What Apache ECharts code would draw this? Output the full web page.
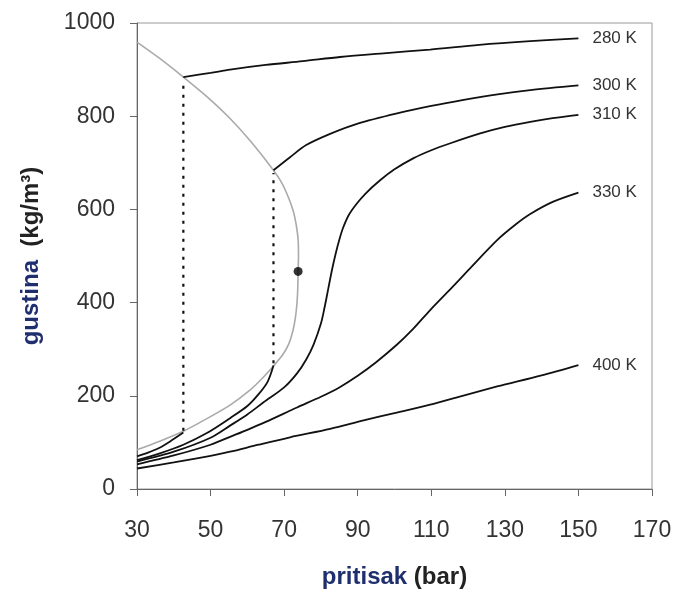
<!DOCTYPE html>
<html><head><meta charset="utf-8">
<script src="https://cdn.jsdelivr.net/npm/echarts@6/dist/echarts.min.js"></script>
<style>html,body{margin:0;padding:0;background:#fff}#c{width:674px;height:589px}</style>
</head><body><div id="c"></div>
<script>
// pressure (bar), density (kg/m3) pairs
const saturation = [[30,959],[36,925],[42.6,884],[49,842],[55.3,795],[61,745],[67.1,684],[69.5,655],[71.2,625],[72.5,596],[73.3,566],[73.8,535],[73.9,500],[73.8,467],[73.7,430],[73.5,400],[73.1,370],[72.4,340],[71.3,312],[69.6,288],[67.1,264],[64,237],[60.7,212],[55.3,180],[49,151],[42.6,124],[36,102],[30,84]];
const iso280Gas = [[30,70],[33,78],[36,88],[39,102],[42.6,121]];
const iso280Liq = [[42.6,884],[50,893],[55.3,900],[65,910],[75,918],[85.2,927],[97,935],[109.7,943],[123,953],[136.9,961],[150,967]];
const iso300Gas = [[30,62],[36,76],[42.6,95],[49,120],[55.3,152],[60,178],[63,203],[65.5,230],[67.1,265]];
const iso300Liq = [[67.1,684],[71.6,712],[76,738],[82.5,762],[90,784],[100.7,806],[110,822],[118.8,835],[128,847],[136.9,856],[150,866]];
const iso310 = [[30,59],[40,80],[50,110],[55.3,136],[60,160],[64.4,186],[70,218],[73.5,248],[76,278],[78,310],[80,355],[81,390],[82,430],[83,470],[84,505],[85,535],[86,560],[87.5,587],[89.5,610],[92,633],[96,662],[100,686],[105.2,710],[110,727],[115.2,742],[123.3,763],[130,777],[136.9,788],[143,796],[150,803]];
const iso330 = [[30,53],[40,72],[50,95],[55.3,112],[60,127],[65,144],[73.5,175],[80,198],[85,218],[90,243],[95,272],[100.7,310],[105,343],[109.7,384],[115.2,429],[120,469],[127.9,534],[133,568],[136.9,590],[143,616],[150,636]];
const iso400 = [[30,44],[40,57],[50,71],[55.3,80],[63,95],[71.6,111],[82.5,129],[91.6,147],[100,163],[109.7,181],[118,199],[127.9,220],[140,244],[150,266]];
const tieLine280 = [[42.6,125],[42.6,878]];
const tieLine300 = [[67.1,270],[67.1,678]];
const criticalPoint = [[73.8,467]];
const isoLabels = ['280 K','300 K','310 K','330 K','400 K'];

const black = '#111';
const font = 'Liberation Sans, Arial';
function iso(data, label) {
  const s = {type:'line', data, showSymbol:false, smooth:0.3,
    lineStyle:{color:black, width:1.8}, silent:true};
  if (label) s.endLabel = {show:true, formatter:label, distance:14, color:'#333', fontSize:17, fontFamily:font};
  return s;
}
const nameRich = {a:{color:'#1f2f6e', fontSize:24, fontWeight:'bold', fontFamily:font}, b:{color:'#222', fontSize:24, fontWeight:'bold', fontFamily:font}};
const chart = echarts.init(document.getElementById('c'), null, {renderer:'canvas'});
chart.setOption({
  animation:false,
  grid:{left:137, top:23, right:22, bottom:100, show:true, borderColor:'#999', borderWidth:1, containLabel:false, outerBoundsMode:'none'},
  xAxis:{type:'value', min:30, max:170, interval:20,
    name:'{a|pritisak}  {b|(bar)}', nameLocation:'middle', nameGap:76,
    nameTextStyle:{rich:nameRich},
    axisLine:{lineStyle:{color:'#666', width:1}}, axisTick:{show:true, length:7, lineStyle:{color:'#666'}},
    axisLabel:{color:'#333', fontSize:23, margin:30, fontFamily:font},
    splitLine:{show:false}},
  yAxis:{type:'value', min:0, max:1000, interval:200,
    name:'{a|gustina}    {b|(kg/m³)}', nameLocation:'middle', nameGap:94, nameRotate:90,
    nameTextStyle:{rich:nameRich},
    axisLine:{show:true, lineStyle:{color:'#666', width:1}}, axisTick:{show:true, length:7, lineStyle:{color:'#666'}},
    axisLabel:{color:'#333', fontSize:23, margin:22, fontFamily:font, formatter:v => String(v)},
    splitLine:{show:false}},
  series:[
    {type:'line', data:saturation, showSymbol:false, smooth:0.25, lineStyle:{color:'#aaa', width:1.6}, silent:true, z:1},
    iso(iso280Gas), iso(iso280Liq, isoLabels[0]),
    iso(iso300Gas), iso(iso300Liq, isoLabels[1]),
    iso(iso310, isoLabels[2]), iso(iso330, isoLabels[3]), iso(iso400, isoLabels[4]),
    {type:'line', data:tieLine280, showSymbol:false, lineStyle:{color:black, width:2.2, type:[3,6]}, silent:true},
    {type:'line', data:tieLine300, showSymbol:false, lineStyle:{color:black, width:2.2, type:[3,6]}, silent:true},
    {type:'scatter', data:criticalPoint, symbolSize:9, itemStyle:{color:'#000'}, silent:true, z:5}
  ]
});
</script></body></html>
